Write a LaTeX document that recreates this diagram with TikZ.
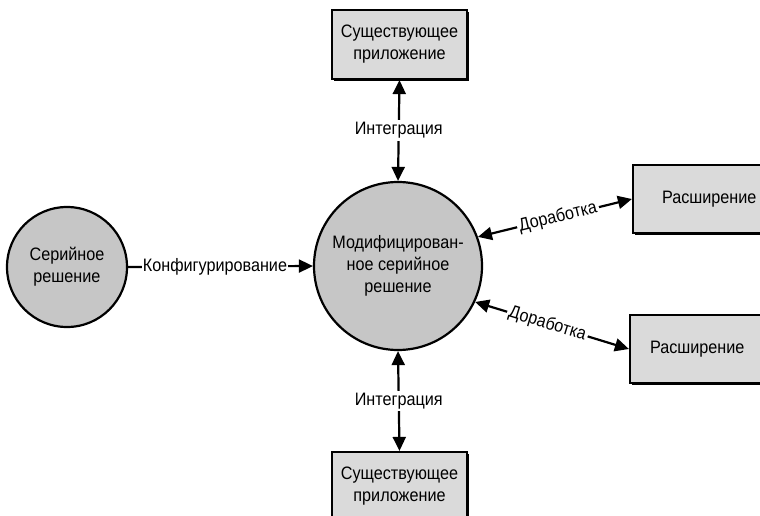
\documentclass[tikz,border=0pt]{standalone}
\usepackage{fontspec}
\setmainfont{Liberation Sans}[FakeStretch=0.9]
\usetikzlibrary{arrows.meta,shadows}
\definecolor{circgray}{RGB}{198,198,198}
\definecolor{boxgray}{RGB}{218,218,218}
\tikzset{
  txt/.style={font=\fontsize{18}{22}\selectfont, align=center},
  bubble/.style={txt, circle, draw=black, line width=2.2pt, fill=circgray, inner sep=0pt},
  appbox/.style={txt, rectangle, draw=black, line width=2.2pt, fill=boxgray, inner sep=0pt,
     drop shadow={shadow xshift=2pt, shadow yshift=-2pt, fill=black, opacity=1}},
  conn/.style={line width=2.2pt, -{Triangle[length=14pt,width=13pt]}},
  biconn/.style={line width=2.2pt, {Triangle[length=14pt,width=13pt]}-{Triangle[length=14pt,width=13pt]}},
  lbl/.style={txt, fill=white, inner sep=2pt}
}
\begin{document}
\begin{tikzpicture}[x=1pt,y=-1pt]
\useasboundingbox (0,0) rectangle (760,516);
\clip (0,0) rectangle (760,516);
\fill[white] (0,0) rectangle (760,516);
\node[bubble, minimum size=168pt] (mod) at (398,266) {Модифицирован-\\ное серийное\\решение};
\node[bubble, minimum size=120pt] (ser) at (67,267) {Серийное\\решение};
\node[appbox, minimum width=135pt, minimum height=69pt] (top) at (399.5,44.5) {Существующее\\приложение};
\node[appbox, minimum width=135pt, minimum height=69pt] (bot) at (399.5,486.5) {Существующее\\приложение};
\node[appbox, minimum width=140pt, minimum height=68pt, text width=120pt, align=left] (ext1) at (703,199) {\hspace*{19pt}Расширение};
\node[appbox, minimum width=140pt, minimum height=68pt, text width=120pt, align=left] (ext2) at (700,349) {\hspace*{10pt}Расширение};
\draw[conn] (ser.east) -- node[lbl, pos=0.47, inner xsep=1pt] {Конфигурирование} (mod.west);
\draw[biconn] (mod.north) -- node[lbl] {Интеграция} (top.south);
\draw[biconn] (mod.south) -- node[lbl] {Интеграция} (bot.north);
\draw[biconn] (mod.20) -- node[lbl, sloped, pos=0.52] {Доработка} (ext1.west);
\draw[biconn] (mod.-25) -- node[lbl, sloped, pos=0.47] {Доработка} (ext2.west);
\end{tikzpicture}
\end{document}
